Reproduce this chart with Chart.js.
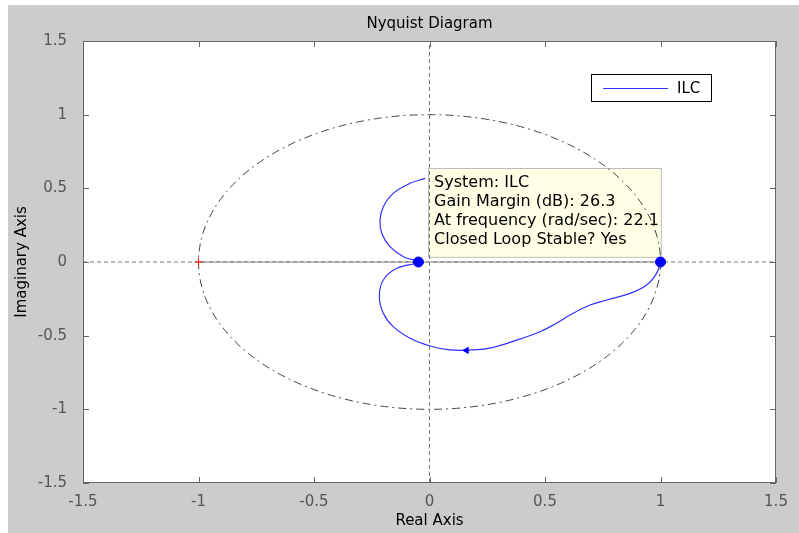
<!DOCTYPE html>
<html>
<head>
<meta charset="utf-8">
<script src="https://cdn.jsdelivr.net/npm/chart.js@4.4.1/dist/chart.umd.min.js"></script>
<style>
  html, body { margin: 0; background: #fff; }
  #fig { position: absolute; left: 8px; top: 5px; width: 791px; height: 528px; background: #cccccc; }
</style>
</head>
<body>
<div id="fig"><canvas id="nyquist" width="791" height="528"></canvas></div>
<script>
// tick values used on both axes
const axisTicks = [-1.5, -1, -0.5, 0, 0.5, 1, 1.5];

// Nyquist curve of ILC (from w=0 at (1,0) round the lower loop, then the visible upper part)
const nyquistRe = [1.000, 0.983, 0.940, 0.868, 0.767, 0.695, 0.608, 0.536, 0.478, 0.377, 0.276, 0.190, 0.089,
                   0.002, -0.084, -0.157, -0.200, -0.217, -0.200, -0.142, -0.048,
                   -0.113, -0.171, -0.207, -0.214, -0.200, -0.157, -0.084, -0.019];
const nyquistIm = [0.000, -0.077, -0.156, -0.213, -0.258, -0.292, -0.360, -0.428, -0.473, -0.530, -0.579, -0.597, -0.597,
                   -0.570, -0.518, -0.439, -0.348, -0.236, -0.122, -0.043, 0.000,
                   0.036, 0.104, 0.195, 0.285, 0.375, 0.466, 0.534, 0.568];

// margin markers, direction arrow, critical point
const markerRe = [-0.048, 1.0];
const markerIm = [0, 0];
const arrowRe = [0.16];
const arrowIm = [-0.6];
const criticalRe = [-1];
const criticalIm = [0];

// unit circle and solid part of the real axis
const circleCenter = [0, 0];
const circleRadius = 1;
const realSegment = [-1, 1];

const tipLines = ['System: ILC', 'Gain Margin (dB): 26.3', 'At frequency (rad/sec): 22.1', 'Closed Loop Stable? Yes'];

const FONT = '"DejaVu Sans", sans-serif';
const pts = (xs, ys) => xs.map((v, i) => ({ x: v, y: ys[i] }));
const lo = axisTicks[0], hi = axisTicks[axisTicks.length - 1];

const figurePlugin = {
    id: 'figure',
    beforeDraw(chart) {
        const { ctx, chartArea: a } = chart;
        ctx.save();
        ctx.fillStyle = '#fff';
        ctx.fillRect(a.left, a.top, a.right - a.left, a.bottom - a.top);
        ctx.restore();
    },
    beforeDatasetsDraw(chart, args, opts) {
        const { ctx, scales: { x, y } } = chart;
        const t = opts.tip;
        const l = x.getPixelForValue(t.xMin), r = x.getPixelForValue(t.xMax);
        const tp = y.getPixelForValue(t.yMax), bt = y.getPixelForValue(t.yMin);
        ctx.save();
        // data tip box
        ctx.fillStyle = '#ffffe6';
        ctx.fillRect(l, tp, r - l, bt - tp);
        ctx.strokeStyle = '#bdbdbd';
        ctx.lineWidth = 1;
        ctx.strokeRect(Math.round(l) + 0.5, Math.round(tp) + 0.5, r - l - 1, bt - tp - 1);
        ctx.fillStyle = '#000';
        ctx.font = '16px ' + FONT;
        ctx.textBaseline = 'middle';
        tipLines.forEach((s, i) => ctx.fillText(s, l + 6, tp + 15 + i * 19));
        // unit circle, dash-dot
        ctx.beginPath();
        ctx.setLineDash([8, 4, 2, 4]);
        ctx.strokeStyle = '#444';
        const cx = x.getPixelForValue(circleCenter[0]), cy = y.getPixelForValue(circleCenter[1]);
        ctx.ellipse(cx, cy,
            Math.abs(x.getPixelForValue(circleCenter[0] + circleRadius) - cx),
            Math.abs(y.getPixelForValue(circleCenter[1] + circleRadius) - cy),
            0, 0, 2 * Math.PI);
        ctx.stroke();
        ctx.restore();
    },
    afterDraw(chart) {
        const { ctx, chartArea: a, scales: { x, y } } = chart;
        ctx.save();
        ctx.strokeStyle = '#666';
        ctx.lineWidth = 1;
        ctx.strokeRect(a.left + 0.5, a.top + 0.5, a.right - a.left - 1, a.bottom - a.top - 1);
        ctx.beginPath();
        axisTicks.forEach(v => {
            const px = Math.round(x.getPixelForValue(v)) + 0.5;
            ctx.moveTo(px, a.bottom); ctx.lineTo(px, a.bottom - 6);
            ctx.moveTo(px, a.top); ctx.lineTo(px, a.top + 6);
            const py = Math.round(y.getPixelForValue(v)) + 0.5;
            ctx.moveTo(a.left, py); ctx.lineTo(a.left + 6, py);
            ctx.moveTo(a.right, py); ctx.lineTo(a.right - 6, py);
        });
        ctx.stroke();
        // legend
        const lx = a.right - 185, ly = a.top + 33;
        ctx.fillStyle = '#fff';
        ctx.fillRect(lx, ly, 121, 28);
        ctx.strokeStyle = '#000';
        ctx.strokeRect(lx + 0.5, ly + 0.5, 120, 27);
        ctx.beginPath();
        ctx.strokeStyle = '#3030ff';
        ctx.moveTo(lx + 12, ly + 14.5); ctx.lineTo(lx + 77, ly + 14.5);
        ctx.stroke();
        ctx.fillStyle = '#000';
        ctx.font = '15px ' + FONT;
        ctx.textBaseline = 'middle';
        ctx.fillText(chart.data.datasets[3].label, lx + 86, ly + 15);
        ctx.restore();
    }
};

const tickOpts = {
    color: '#555', font: { family: FONT, size: 15 }, padding: 8, autoSkip: false, maxRotation: 0,
    callback: v => String(v)
};
const setTicks = s => { s.ticks = axisTicks.map(v => ({ value: v })); };

new Chart(document.getElementById('nyquist'), {
    type: 'scatter',
    data: {
        datasets: [
            { // margin markers
                data: pts(markerRe, markerIm),
                pointStyle: 'circle', pointRadius: 5,
                backgroundColor: '#0000ff', borderColor: '#0000ff', showLine: false
            },
            { // direction arrow
                data: pts(arrowRe, arrowIm),
                pointStyle: 'triangle', pointRadius: 3.5, rotation: -90,
                backgroundColor: '#0000ff', borderColor: '#0000ff', showLine: false
            },
            { // critical point
                data: pts(criticalRe, criticalIm),
                pointStyle: 'cross', pointRadius: 4, borderWidth: 1,
                borderColor: '#ff0000', showLine: false
            },
            {
                label: 'ILC',
                data: pts(nyquistRe, nyquistIm),
                showLine: true, borderColor: '#3030ff', borderWidth: 1.2,
                pointRadius: 0, tension: 0.4
            },
            { // solid part of real axis
                data: pts(realSegment, [0, 0]),
                showLine: true, borderColor: '#808080', borderWidth: 1, pointRadius: 0
            },
            { // dashed real axis
                data: pts([lo, hi], [0, 0]),
                showLine: true, borderColor: '#777', borderWidth: 1, borderDash: [4, 3], pointRadius: 0
            },
            { // dashed imaginary axis
                data: pts([0, 0], [lo, hi]),
                showLine: true, borderColor: '#777', borderWidth: 1, borderDash: [4, 3], pointRadius: 0
            }
        ]
    },
    options: {
        responsive: false,
        animation: false,
        layout: { padding: { left: 0, right: 23, top: 0, bottom: 0 } },
        plugins: {
            legend: { display: false },
            tooltip: { enabled: false },
            title: {
                display: true, text: 'Nyquist Diagram', fullSize: false, color: '#000',
                font: { family: FONT, size: 15, weight: 'normal' }, padding: { top: 10, bottom: 8 }
            },
            figure: { tip: { xMin: -0.006, xMax: 1.006, yMin: 0.028, yMax: 0.638 } }
        },
        scales: {
            x: {
                type: 'linear', min: lo, max: hi,
                afterBuildTicks: setTicks,
                afterFit: s => { s.height = 50; },
                grid: { display: false }, border: { display: false },
                ticks: { ...tickOpts, padding: 2 },
                title: { display: true, text: 'Real Axis', color: '#000', font: { family: FONT, size: 15 }, padding: { top: 0, bottom: 3 } }
            },
            y: {
                type: 'linear', min: lo, max: hi,
                afterBuildTicks: setTicks,
                afterFit: s => { s.width = 75; },
                grid: { display: false }, border: { display: false },
                ticks: tickOpts,
                title: { display: true, text: 'Imaginary Axis', color: '#000', font: { family: FONT, size: 15 }, padding: { top: 5, bottom: 0 } }
            }
        }
    },
    plugins: [figurePlugin]
});
</script>
</body>
</html>
